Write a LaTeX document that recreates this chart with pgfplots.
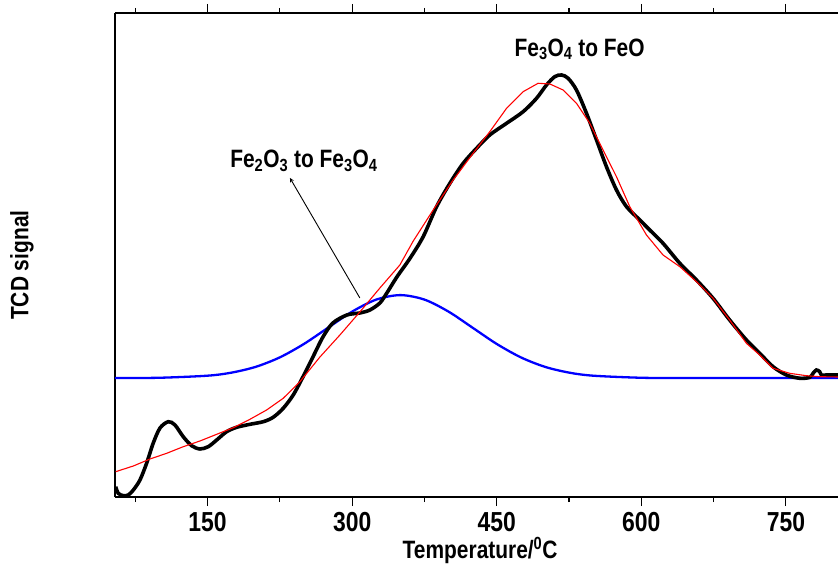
\documentclass[border=0pt]{standalone}
\usepackage{fontspec}
\setmainfont{Liberation Sans}
\usepackage{graphicx}
\usepackage{pgfplots}
\pgfplotsset{compat=1.18}
\newcommand{\tall}[1]{\scalebox{1}[1.2]{#1}}
\begin{document}
\begin{tikzpicture}
\useasboundingbox (-115bp,-69bp) rectangle (723bp,497bp);
\begin{axis}[
  at={(0,0)}, anchor=south west,
  scale only axis, width=723bp, height=484bp,
  xmin=54, xmax=804, ymin=0, ymax=14,
  axis x line*=box, axis y line*=left,
  axis line style={line width=1.4bp},
  xtick={150,300,450,600,750},
  minor xtick={75,225,375,525,675},
  ytick=\empty,
  minor ytick={1,2,...,13},
  tick align=outside,
  major tick length=9bp, minor tick length=5bp,
  every tick/.style={line width=1.1bp, black},
  minor y tick style={xshift=5bp},
  xticklabel={\tall{\pgfmathprintnumber[assume math mode=true]{\tick}}},
  tick label style={font=\fontsize{23}{25}\selectfont\bfseries},
  xticklabel style={yshift=-3bp},
  xlabel={\tall{Temperature/\textsuperscript{0}C}},
  ylabel={\tall{TCD signal}},
  label style={font=\fontsize{21}{23}\selectfont\bfseries},
  xlabel style={at={(axis description cs:0.505,0)}, anchor=center, yshift=-53bp},
  ylabel style={at={(axis description cs:0,0.479)}, anchor=center, yshift=93bp},
]
% fitted peak 1 (Fe2O3 -> Fe3O4)
\addplot[blue, line width=2.3bp, smooth] coordinates {
(54,3.441) (100,3.449) (150,3.509) (175,3.598) (200,3.765) (225,4.039)
(250,4.427) (275,4.896) (300,5.362) (325,5.710) (350,5.840) (375,5.710)
(400,5.362) (425,4.896) (450,4.427) (475,4.039) (500,3.765) (525,3.598)
(550,3.509) (600,3.449) (650,3.441) (804,3.440)
};
% measured TCD signal
\addplot[black, line width=3.6bp, smooth, tension=0.5] coordinates {
(54.7,0.298) (57.4,0.107) (62.6,0.038) (67.8,0.058) (73.0,0.202) (79.9,0.492)
(86.9,0.984) (93.7,1.562) (100.7,1.996) (109.3,2.178) (116.2,2.083) (124.8,1.744)
(133.5,1.484) (142.1,1.389) (150.7,1.455) (159.5,1.649) (169.8,1.889) (180.2,2.016)
(194.0,2.103) (207.8,2.178) (218.1,2.306) (228.5,2.566) (238.9,2.951) (248.9,3.471)
(259.3,4.050) (269.7,4.628) (280.0,5.033) (294.6,5.265) (308.0,5.323) (318.4,5.409)
(328.8,5.612) (336.0,5.901) (346.4,6.364) (359.9,6.900) (373.7,7.530) (387.6,8.398)
(401.4,9.074) (415.2,9.653) (429.1,10.087) (442.8,10.472) (460.2,10.810) (477.4,11.146)
(491.3,11.533) (501.6,11.918) (510.2,12.158) (517.2,12.207) (524.0,12.112) (532.7,11.773)
(543.1,11.099) (553.5,10.327) (563.8,9.555) (574.2,8.881) (584.6,8.398) (598.4,8.013)
(608.7,7.724) (622.5,7.339) (639.9,6.760) (657.2,6.277) (674.4,5.748) (691.6,5.120)
(709.0,4.542) (722.8,4.157) (736.6,3.769) (750.5,3.529) (764.3,3.434) (774.7,3.460)
(778.1,3.578) (781.6,3.674) (785.0,3.625) (786.8,3.529) (792.0,3.529) (803.9,3.529)
};
% fitted envelope
\addplot[red, line width=1.1bp] coordinates {
(54.7,0.732) (73.0,0.897) (90.3,1.099) (107.6,1.264) (124.8,1.455) (142.1,1.620)
(159.5,1.814) (176.7,2.005) (194.0,2.248) (211.3,2.517) (228.5,2.855) (245.8,3.335)
(266.6,4.050) (287.3,4.686) (308.0,5.352) (328.8,6.046) (349.5,6.711) (363.3,7.400)
(384.0,8.300) (404.8,9.170) (425.5,9.942) (442.8,10.567) (460.2,11.244) (477.4,11.724)
(492.9,11.967) (505.1,11.947) (518.8,11.773) (532.7,11.389) (546.5,10.810) (560.3,10.038)
(574.2,9.265) (588.0,8.398) (605.3,7.579) (622.5,7.000) (639.9,6.662) (657.2,6.228)
(674.4,5.748) (691.6,5.120) (709.0,4.446) (722.8,4.108) (736.6,3.723) (753.9,3.578)
(771.2,3.509) (785.0,3.480) (803.9,3.471)
};
\node[font=\fontsize{21}{24}\selectfont\bfseries] at (axis cs:536,12.95)
  {\tall{Fe\textsubscript{3}O\textsubscript{4} to FeO}};
\node[font=\fontsize{21}{24}\selectfont\bfseries] at (axis cs:250,9.72)
  {\tall{Fe\textsubscript{2}O\textsubscript{3} to Fe\textsubscript{3}O\textsubscript{4}}};
\draw[-stealth, line width=0.9bp] (axis cs:308,5.757) -- (axis cs:235.5,9.228);
\end{axis}
\end{tikzpicture}
\end{document}
